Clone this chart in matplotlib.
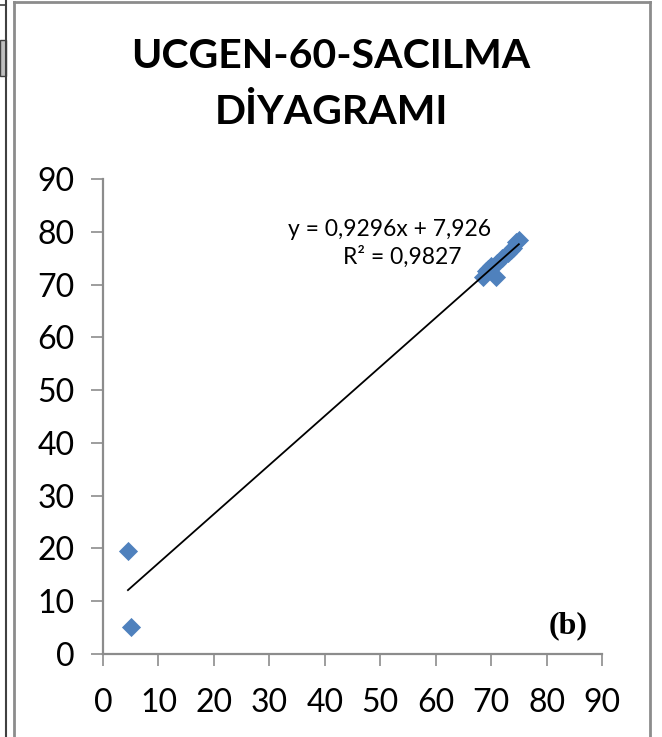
import matplotlib.pyplot as plt
from matplotlib.lines import Line2D
from matplotlib.patches import Rectangle
import numpy as np

# measured pairs for the scatter
x_vals = [4.5, 5.0, 68.5, 69.0, 69.5, 70.0, 70.8, 71.0, 72.0, 73.0, 73.5, 74.0, 74.5, 75.0]
y_vals = [19.5, 5.2, 71.5, 72.5, 73.0, 73.5, 71.5, 74.0, 75.0, 76.0, 76.5, 77.0, 78.0, 78.5]

# linear trendline as reported on the chart
slope = 0.9296
intercept = 7.926
r_squared = 0.9827

ticks = list(range(0, 100, 10))

plt.rcParams['font.family'] = ['Lato', 'DejaVu Sans']

fig = plt.figure(figsize=(6.62, 7.37), dpi=100)
ax = fig.add_axes([0.1556, 0.1126, 0.7538, 0.6445])

ax.scatter(x_vals, y_vals, marker='D', s=95, color='#4F81BD', zorder=3, linewidths=0)

xs = np.array([min(x_vals), max(x_vals)])
ax.plot(xs, slope * xs + intercept, color='black', lw=1.3, zorder=4)

ax.set_xlim(0, 90)
ax.set_ylim(0, 90)
ax.set_xticks(ticks)
ax.set_yticks(ticks)

for side in ('top', 'right'):
    ax.spines[side].set_visible(False)
for side in ('left', 'bottom'):
    ax.spines[side].set_color('#8c8c8c')
    ax.spines[side].set_linewidth(1.6)

ax.tick_params(axis='both', direction='out', length=8.5, width=1.2,
               color='#8c8c8c', labelsize=23, labelcolor='black')
ax.tick_params(axis='y', pad=12)
ax.tick_params(axis='x', pad=16)

fig.text(0.5, 1 - 57 / 737, 'UCGEN-60-SACILMA', ha='center', va='center',
         fontsize=29.5, fontweight='bold')
fig.text(0.5, 1 - 112 / 737, 'DİYAGRAMI', ha='center', va='center',
         fontsize=29.5, fontweight='bold')

fig.text(390 / 662, 1 - 230 / 737, f'y = {slope:.4f}x + {intercept:.3f}'.replace('.', ','),
         ha='center', va='center', fontsize=16.5)
fig.text(402 / 662, 1 - 257 / 737, f'R² = {r_squared:.4f}'.replace('.', ','),
         ha='center', va='center', fontsize=16.5)

fig.text(568 / 662, 1 - 626 / 737, '(b)', ha='center', va='center',
         fontsize=23, fontweight='bold', family='Liberation Serif')

# chart frame and the edge of the neighbouring panel
W, H = 662, 737
def fline(xp, yp, **kw):
    fig.add_artist(Line2D([p / W for p in xp], [1 - p / H for p in yp],
                          transform=fig.transFigure, **kw))

fline([14, 14], [2, 737], color='#8c8c8c', lw=2)
fline([14, 650], [2, 2], color='#8c8c8c', lw=2)
fline([650, 650], [2, 737], color='#8c8c8c', lw=2)
fline([6, 6], [0, 737], color='#404040', lw=1.5)
fline([0, 6], [5, 5], color='#404040', lw=1.2)
fig.add_artist(Rectangle((0, 1 - 76 / H), 6 / W, 36 / H, transform=fig.transFigure,
                         facecolor='#c0c0c0', edgecolor='#404040', lw=1))

fig.savefig('out.png', dpi=100)
